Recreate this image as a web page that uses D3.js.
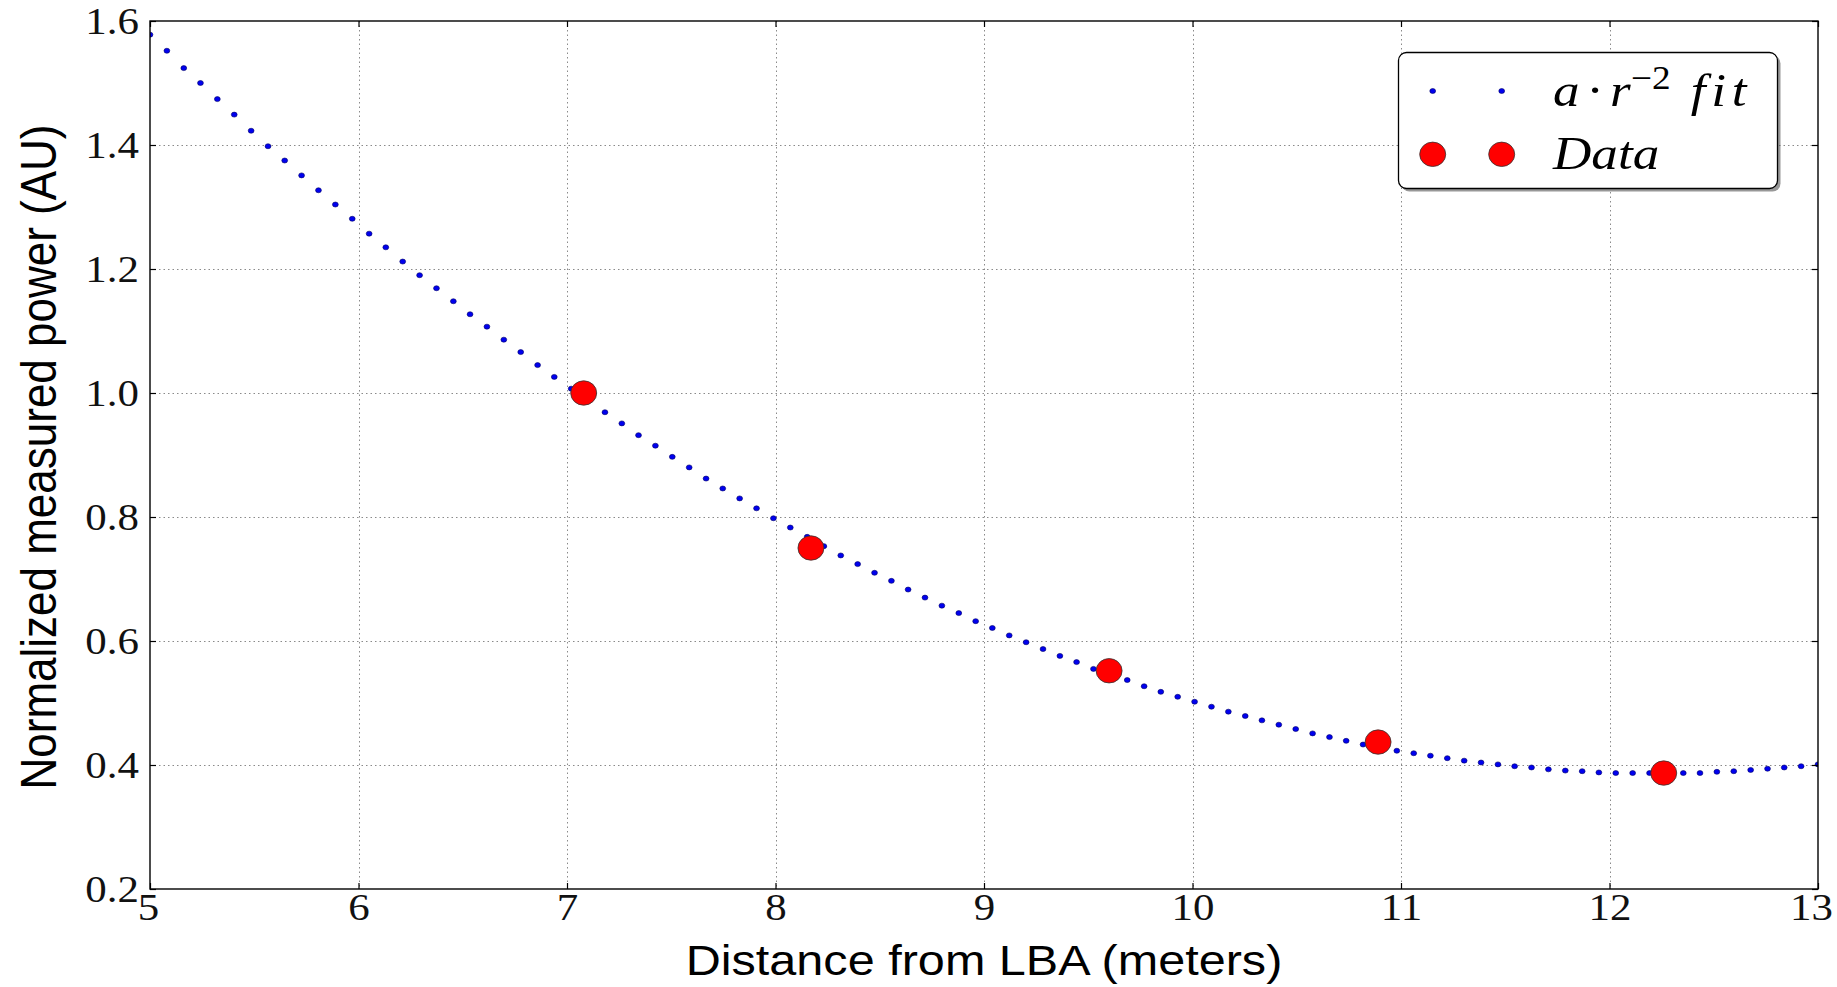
<!DOCTYPE html>
<html><head><meta charset="utf-8">
<script src="https://cdn.jsdelivr.net/npm/d3@7"></script>
<style>body{margin:0;background:#fff}</style>
</head><body><svg id="c" width="1837" height="987"></svg>
<script>
const xTicks=[5,6,7,8,9,10,11,12,13];
const xTickLabels=["5","6","7","8","9","10","11","12","13"];
const yTicks=[0.2,0.4,0.6,0.8,1.0,1.2,1.4,1.6];
const yTickLabels=["0.2","0.4","0.6","0.8","1.0","1.2","1.4","1.6"];
const fitX=[5.000,5.081,5.162,5.242,5.323,5.404,5.485,5.566,5.646,5.727,5.808,5.889,5.970,6.051,6.131,6.212,6.293,6.374,6.455,6.535,6.616,6.697,6.778,6.859,6.939,7.020,7.101,7.182,7.263,7.343,7.424,7.505,7.586,7.667,7.747,7.828,7.909,7.990,8.071,8.152,8.232,8.313,8.394,8.475,8.556,8.636,8.717,8.798,8.879,8.960,9.040,9.121,9.202,9.283,9.364,9.444,9.525,9.606,9.687,9.768,9.848,9.929,10.010,10.091,10.172,10.253,10.333,10.414,10.495,10.576,10.657,10.737,10.818,10.899,10.980,11.061,11.141,11.222,11.303,11.384,11.465,11.545,11.626,11.707,11.788,11.869,11.949,12.030,12.111,12.192,12.273,12.354,12.434,12.515,12.596,12.677,12.758,12.838,12.919,13.000];
const fitY=[1.578,1.552,1.524,1.500,1.474,1.449,1.423,1.398,1.375,1.351,1.327,1.304,1.281,1.257,1.235,1.212,1.190,1.169,1.148,1.127,1.107,1.086,1.066,1.045,1.026,1.007,0.988,0.969,0.951,0.932,0.915,0.897,0.880,0.862,0.846,0.830,0.814,0.798,0.783,0.768,0.753,0.738,0.724,0.710,0.697,0.683,0.670,0.657,0.645,0.632,0.621,0.609,0.598,0.587,0.576,0.566,0.555,0.546,0.537,0.527,0.518,0.510,0.502,0.494,0.486,0.479,0.472,0.465,0.458,0.451,0.445,0.439,0.433,0.428,0.423,0.419,0.415,0.411,0.407,0.404,0.401,0.398,0.396,0.393,0.391,0.390,0.388,0.387,0.387,0.387,0.387,0.387,0.387,0.389,0.390,0.392,0.394,0.396,0.398,0.401];
const dataX=[7.08,8.17,9.60,10.89,12.26];
const dataY=[1.000,0.750,0.552,0.437,0.387];
const xLabel="Distance from LBA (meters)";
const yLabel="Normalized measured power (AU)";
const legendData="Data";

const SX=1.13;
const svg=d3.select("#c");
const m={l:150,r:1818,t:21,b:889};
const x=d3.scaleLinear().domain([5,13]).range([m.l,m.r]);
const y=d3.scaleLinear().domain([0.2,1.6]).range([m.b,m.t]);

svg.append("rect").attr("width",1837).attr("height",987).attr("fill","#fff");

// grid
const grid=svg.append("g").attr("stroke","#8a8a8a").attr("stroke-width",1).attr("stroke-dasharray","1.5,3");
grid.selectAll("line.v").data(xTicks.slice(1,-1)).join("line").attr("class","v")
  .attr("x1",d=>Math.round(x(d))+0.5).attr("x2",d=>Math.round(x(d))+0.5).attr("y1",m.t).attr("y2",m.b);
grid.selectAll("line.h").data(yTicks.slice(1,-1)).join("line").attr("class","h")
  .attr("y1",d=>Math.round(y(d))+0.5).attr("y2",d=>Math.round(y(d))+0.5).attr("x1",m.l).attr("x2",m.r);

// clip
svg.append("clipPath").attr("id","clip").append("rect")
  .attr("x",m.l).attr("y",m.t).attr("width",m.r-m.l).attr("height",m.b-m.t);
const plot=svg.append("g").attr("clip-path","url(#clip)");

plot.selectAll("ellipse.fit").data(fitX.map((v,i)=>[v,fitY[i]])).join("ellipse").attr("class","fit")
  .attr("cx",d=>x(d[0])).attr("cy",d=>y(d[1])).attr("rx",2.9).attr("ry",2.5)
  .attr("fill","#0000ee").attr("stroke","#000066").attr("stroke-width",0.6);

plot.selectAll("ellipse.dat").data(dataX.map((v,i)=>[v,dataY[i]])).join("ellipse").attr("class","dat")
  .attr("cx",d=>x(d[0])).attr("cy",d=>y(d[1])).attr("rx",13).attr("ry",12.2)
  .attr("fill","#ff0000").attr("stroke","#333").attr("stroke-width",0.8);

// axes
const tickFont="'Liberation Serif', 'Times New Roman', serif";
const gx=svg.append("g").attr("transform",`translate(0,${m.b})`)
  .call(d3.axisBottom(x).tickValues(xTicks).tickFormat((d,i)=>xTickLabels[i]).tickSizeInner(-6).tickSizeOuter(0));
gx.selectAll("text").attr("y",31).attr("dy",0)
  .attr("x",(d,i)=>i===xTicks.length-1?-7/SX:(i===0?-2/SX:0))
  .attr("transform",`scale(${SX},1)`)
  .attr("font-family",tickFont).attr("font-size",38).attr("fill","#111");
const gxt=svg.append("g").attr("transform",`translate(0,${m.t})`)
  .call(d3.axisTop(x).tickValues(xTicks).tickFormat("").tickSizeInner(-6).tickSizeOuter(0));
const gy=svg.append("g").attr("transform",`translate(${m.l},0)`)
  .call(d3.axisLeft(y).tickValues(yTicks).tickFormat((d,i)=>yTickLabels[i]).tickSizeInner(-6).tickSizeOuter(0));
gy.selectAll("text").attr("x",-11/SX).attr("dy","0.33em").attr("transform",`scale(${SX},1)`)
  .attr("font-family",tickFont).attr("font-size",38).attr("fill","#111");
const gyr=svg.append("g").attr("transform",`translate(${m.r},0)`)
  .call(d3.axisRight(y).tickValues(yTicks).tickFormat("").tickSizeInner(-6).tickSizeOuter(0));
[gx,gxt,gy,gyr].forEach(g=>{g.select(".domain").remove();g.selectAll("line").attr("stroke","#000").attr("stroke-width",1.2);});

svg.append("rect").attr("x",m.l).attr("y",m.t).attr("width",m.r-m.l).attr("height",m.b-m.t)
  .attr("fill","none").attr("stroke","#000").attr("stroke-width",1.4);

// axis labels
const labFont="'Liberation Sans', Arial, Helvetica, sans-serif";
svg.append("text").attr("transform",`translate(${(m.l+m.r)/2},975) scale(${SX},1)`)
  .attr("text-anchor","middle").attr("font-family",labFont).attr("font-size",43).attr("fill","#000").text(xLabel);
svg.append("text").attr("transform",`translate(56,${(m.t+m.b)/2+2}) scale(${SX},1) rotate(-90)`)
  .attr("text-anchor","middle").attr("font-family",labFont).attr("font-size",44).attr("fill","#000").text(yLabel);

// legend
const lg=svg.append("g");
const bx=1398.5,by=52.5,bw=379,bh=136;
lg.append("rect").attr("x",bx+3).attr("y",by+3).attr("width",bw).attr("height",bh).attr("rx",8)
  .attr("fill","#444").attr("opacity",0.55);
lg.append("rect").attr("x",bx).attr("y",by).attr("width",bw).attr("height",bh).attr("rx",8)
  .attr("fill","#fff").attr("stroke","#000").attr("stroke-width",1.3);
[1432.7,1501.7].forEach(cx=>{
  lg.append("ellipse").attr("cx",cx).attr("cy",91).attr("rx",2.9).attr("ry",2.5)
    .attr("fill","#0000ee").attr("stroke","#000066").attr("stroke-width",0.6);
  lg.append("ellipse").attr("cx",cx).attr("cy",154.3).attr("rx",13).attr("ry",12.2)
    .attr("fill","#ff0000").attr("stroke","#333").attr("stroke-width",0.8);
});
const legFont="'Liberation Serif', 'Times New Roman', serif";
const t1=lg.append("text").attr("transform",`translate(1553,105.7) scale(${SX},1)`)
  .attr("font-family",legFont).attr("font-size",47).attr("fill","#000");
t1.append("tspan").attr("x",0).attr("y",0).attr("font-style","italic").text("a");
t1.append("tspan").attr("x",29.5).attr("y",0).text("·");
t1.append("tspan").attr("x",50.4).attr("y",0).attr("font-style","italic").text("r");
t1.append("tspan").attr("x",69).attr("y",-17).attr("font-size",33).text("−2");
t1.append("tspan").attr("x",122).attr("y",0).attr("font-style","italic").attr("letter-spacing",5).text("fit");
lg.append("text").attr("transform",`translate(1553,169.3) scale(${SX},1)`)
  .attr("font-family",legFont).attr("font-size",47).attr("font-style","italic").attr("fill","#000").text(legendData);
</script></body></html>
